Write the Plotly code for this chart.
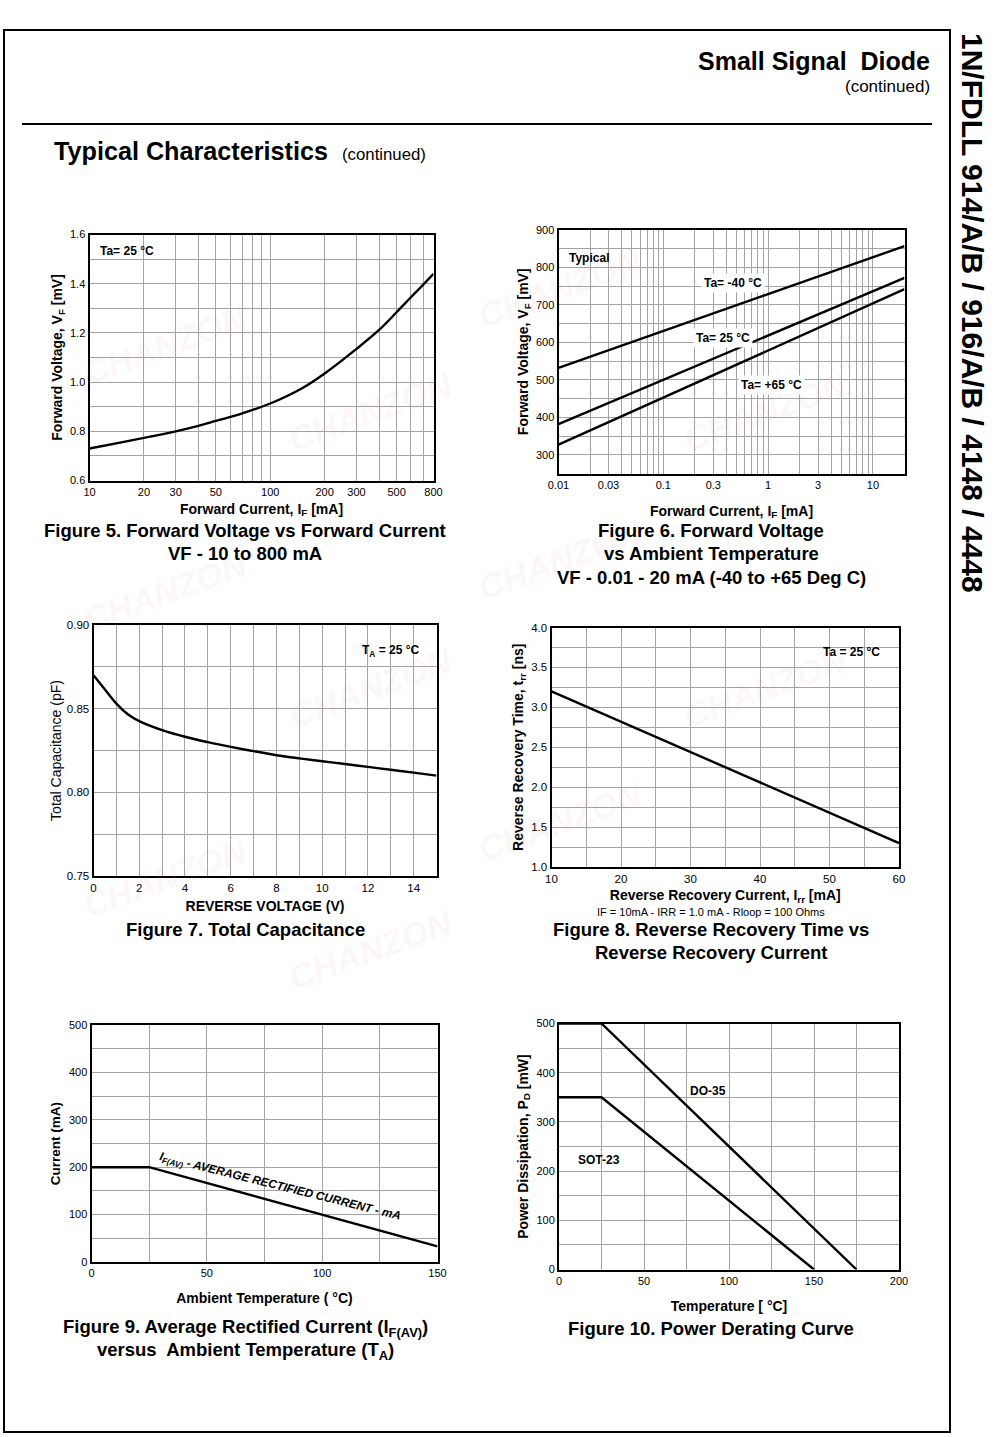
import math
import plotly.graph_objects as go

W, H = 1000, 1437
FONT = "Liberation Sans, Arial, Helvetica, sans-serif"
GRID = "#a3a3a3"

# ---------------- data ----------------
# Figure 5: Forward Voltage vs Forward Current
fig5_if_ma = [10, 15, 20, 30, 40, 50, 70, 100, 150, 200, 300, 400, 500, 600, 700, 800]
fig5_vf = [0.730, 0.755, 0.773, 0.800, 0.822, 0.842, 0.873, 0.913, 0.975, 1.035, 1.135, 1.212,
           1.284, 1.345, 1.395, 1.440]
fig5_xgrid = [10, 20, 30, 40, 50, 60, 70, 80, 90, 100, 200, 300, 400, 500, 600, 700, 800]
fig5_xticks = [10, 20, 30, 50, 100, 200, 300, 500, 800]
fig5_xlabels = ["10", "20", "30", "50", "100", "200", "300", "500", "800"]
fig5_ygrid = [0.6, 0.7, 0.8, 0.9, 1.0, 1.1, 1.2, 1.3, 1.4, 1.5, 1.6]
fig5_yticks = [0.6, 0.8, 1.0, 1.2, 1.4, 1.6]
fig5_ylabels = ["0.6", "0.8", "1.0", "1.2", "1.4", "1.6"]

# Figure 6: Forward Voltage vs Ambient Temperature
fig6_if_ma = [0.01, 20]
fig6_vf_m40 = [532, 857]
fig6_vf_25 = [382, 772]
fig6_vf_65 = [327, 742]
fig6_xgrid = [0.01, 0.02, 0.03, 0.04, 0.05, 0.06, 0.07, 0.08, 0.09,
              0.1, 0.2, 0.3, 0.4, 0.5, 0.6, 0.7, 0.8, 0.9,
              1, 2, 3, 4, 5, 6, 7, 8, 9, 10, 20]
fig6_xticks = [0.01, 0.03, 0.1, 0.3, 1, 3, 10]
fig6_xlabels = ["0.01", "0.03", "0.1", "0.3", "1", "3", "10"]
fig6_ygrid = [250, 300, 350, 400, 450, 500, 550, 600, 650, 700, 750, 800, 850, 900]
fig6_yticks = [300, 400, 500, 600, 700, 800, 900]
fig6_ylabels = ["300", "400", "500", "600", "700", "800", "900"]

# Figure 7: Total Capacitance
fig7_vr = [0, 0.5, 1, 1.5, 2, 3, 4, 5, 6, 7, 8, 9, 10, 11, 12, 13, 14, 15]
fig7_ct = [0.870, 0.8615, 0.853, 0.8467, 0.8426, 0.8372, 0.8332, 0.8300, 0.8272,
           0.8246, 0.8222, 0.8203, 0.8186, 0.8169, 0.8152, 0.8135, 0.8118, 0.8100]
fig7_xgrid = [0, 1, 2, 3, 4, 5, 6, 7, 8, 9, 10, 11, 12, 13, 14, 15]
fig7_xticks = [0, 2, 4, 6, 8, 10, 12, 14]
fig7_xlabels = ["0", "2", "4", "6", "8", "10", "12", "14"]
fig7_ygrid = [0.75, 0.775, 0.80, 0.825, 0.85, 0.875, 0.90]
fig7_yticks = [0.75, 0.80, 0.85, 0.90]
fig7_ylabels = ["0.75", "0.80", "0.85", "0.90"]

# Figure 8: Reverse Recovery Time vs Reverse Recovery Current
fig8_irr = [10, 60]
fig8_trr = [3.2, 1.3]
fig8_xgrid = [10, 15, 20, 25, 30, 35, 40, 45, 50, 55, 60]
fig8_xticks = [10, 20, 30, 40, 50, 60]
fig8_xlabels = ["10", "20", "30", "40", "50", "60"]
fig8_ygrid = [1.0, 1.25, 1.5, 1.75, 2.0, 2.25, 2.5, 2.75, 3.0, 3.25, 3.5, 3.75, 4.0]
fig8_yticks = [1.0, 1.5, 2.0, 2.5, 3.0, 3.5, 4.0]
fig8_ylabels = ["1.0", "1.5", "2.0", "2.5", "3.0", "3.5", "4.0"]

# Figure 9: Average Rectified Current vs Ambient Temperature
fig9_ta = [0, 25, 150]
fig9_if = [200, 200, 33]
fig9_xgrid = [0, 25, 50, 75, 100, 125, 150]
fig9_xticks = [0, 50, 100, 150]
fig9_xlabels = ["0", "50", "100", "150"]
fig9_ygrid = [0, 50, 100, 150, 200, 250, 300, 350, 400, 450, 500]
fig9_yticks = [0, 100, 200, 300, 400, 500]
fig9_ylabels = ["0", "100", "200", "300", "400", "500"]

# Figure 10: Power Derating Curve
fig10_t_do35 = [0, 25, 175]
fig10_p_do35 = [500, 500, 0]
fig10_t_sot23 = [0, 25, 150]
fig10_p_sot23 = [350, 350, 0]
fig10_xgrid = [0, 25, 50, 75, 100, 125, 150, 175, 200]
fig10_xticks = [0, 50, 100, 150, 200]
fig10_xlabels = ["0", "50", "100", "150", "200"]
fig10_ygrid = [0, 50, 100, 150, 200, 250, 300, 350, 400, 450, 500]
fig10_yticks = [0, 100, 200, 300, 400, 500]
fig10_ylabels = ["0", "100", "200", "300", "400", "500"]


# ---------------- helpers ----------------
def dx(a, b):
    return [a / W, b / W]


def dy(top, bottom):
    return [1 - bottom / H, 1 - top / H]


def axis(domain, rng, grid, vals, texts, anchor, title, standoff, typ="linear",
         tsize=11, ttsize=14):
    return dict(
        domain=domain, range=rng, type=typ, anchor=anchor, automargin=False,
        tickmode="array", tickvals=vals, ticktext=texts,
        showgrid=True, gridcolor=GRID, gridwidth=1,
        minor=dict(tickmode="array", tickvals=grid, showgrid=True,
                   gridcolor=GRID, gridwidth=1, ticks=""),
        showline=True, linecolor="black", linewidth=2, mirror=True,
        ticks="", zeroline=False, fixedrange=True,
        tickfont=dict(family=FONT, size=tsize, color="black"),
        title=dict(text=title, standoff=standoff,
                   font=dict(family=FONT, size=ttsize, color="black")),
    )


LINE = dict(color="black", width=2.4)

fig = go.Figure()

fig.add_trace(go.Scatter(x=fig5_if_ma, y=fig5_vf, mode="lines", line=dict(shape="spline", **LINE),
                         xaxis="x", yaxis="y", showlegend=False))
for yv in (fig6_vf_m40, fig6_vf_25, fig6_vf_65):
    fig.add_trace(go.Scatter(x=fig6_if_ma, y=yv, mode="lines", line=LINE,
                             xaxis="x2", yaxis="y2", showlegend=False))
fig.add_trace(go.Scatter(x=fig7_vr, y=fig7_ct, mode="lines", line=dict(shape="spline", **LINE),
                         xaxis="x3", yaxis="y3", showlegend=False))
fig.add_trace(go.Scatter(x=fig8_irr, y=fig8_trr, mode="lines", line=LINE,
                         xaxis="x4", yaxis="y4", showlegend=False))
fig.add_trace(go.Scatter(x=fig9_ta, y=fig9_if, mode="lines", line=LINE,
                         xaxis="x5", yaxis="y5", showlegend=False))
fig.add_trace(go.Scatter(x=fig10_t_do35, y=fig10_p_do35, mode="lines", line=LINE,
                         xaxis="x6", yaxis="y6", showlegend=False))
fig.add_trace(go.Scatter(x=fig10_t_sot23, y=fig10_p_sot23, mode="lines", line=LINE,
                         xaxis="x6", yaxis="y6", showlegend=False))

layout = dict(
    width=W, height=H, margin=dict(l=0, r=0, t=0, b=0, pad=0, autoexpand=False),
    paper_bgcolor="white", plot_bgcolor="white", showlegend=False,
    font=dict(family=FONT, color="black"),
    xaxis=axis(dx(89.5, 433.5), [1, math.log10(800)], fig5_xgrid, fig5_xticks, fig5_xlabels, "y",
               "<b>Forward Current, I<sub>F</sub> [mA]</b>", 7, typ="log", tsize=11),
    yaxis=axis(dy(234.5, 480.5), [0.6, 1.6], fig5_ygrid, fig5_yticks, fig5_ylabels, "x",
               "<b>Forward Voltage, V<sub>F</sub> [mV]</b>", 4, tsize=11),
    xaxis2=axis(dx(558.5, 904.5), [-2, math.log10(20)], fig6_xgrid, fig6_xticks, fig6_xlabels, "y2",
                "<b>Forward Current, I<sub>F</sub> [mA]</b>", 16, typ="log", tsize=11),
    yaxis2=axis(dy(230, 473.5), [250, 900], fig6_ygrid, fig6_yticks, fig6_ylabels, "x2",
                "<b>Forward Voltage, V<sub>F</sub> [mV]</b>", 4, tsize=11),
    xaxis3=axis(dx(93.5, 436.5), [0, 15], fig7_xgrid, fig7_xticks, fig7_xlabels, "y3",
                "<b>REVERSE VOLTAGE (V)</b>", 8, tsize=11.5),
    yaxis3=axis(dy(625, 876), [0.75, 0.90], fig7_ygrid, fig7_yticks, fig7_ylabels, "x3",
                "Total Capacitance (pF)", 2, tsize=11.5),
    xaxis4=axis(dx(551.5, 899), [10, 60], fig8_xgrid, fig8_xticks, fig8_xlabels, "y4",
                "<b>Reverse Recovery Current, I<sub>rr</sub> [mA]</b>", 6, tsize=11.5),
    yaxis4=axis(dy(627.5, 867), [1.0, 4.0], fig8_ygrid, fig8_yticks, fig8_ylabels, "x4",
                "<b>Reverse Recovery Time, t<sub>rr</sub> [ns]</b>", 4, tsize=11.5),
    xaxis5=axis(dx(91.5, 437.5), [0, 150], fig9_xgrid, fig9_xticks, fig9_xlabels, "y5",
                "<b>Ambient Temperature ( °C)</b>", 15, tsize=11),
    yaxis5=axis(dy(1025, 1262), [0, 500], fig9_ygrid, fig9_yticks, fig9_ylabels, "x5",
                "<b>Current (mA)</b>", 5, tsize=11, ttsize=13.5),
    xaxis6=axis(dx(559, 899), [0, 200], fig10_xgrid, fig10_xticks, fig10_xlabels, "y6",
                "<b>Temperature [ °C]</b>", 15, tsize=11),
    yaxis6=axis(dy(1023.5, 1269.5), [0, 500], fig10_ygrid, fig10_yticks, fig10_ylabels, "x6",
                "<b>Power Dissipation, P<sub>D</sub> [mW]</b>", 5, tsize=11),
)
fig.update_layout(**layout)

ann = []


def page_text(text, x, y, size, xanchor="center", bold=False, angle=0, color="black"):
    ann.append(dict(text=("<b>%s</b>" % text) if bold else text, x=x / W, y=1 - y / H,
                    xref="paper", yref="paper", xanchor=xanchor, yanchor="middle",
                    showarrow=False, textangle=angle,
                    font=dict(family=FONT, size=size, color=color)))


def in_plot(text, ax, fx, fy, size, xanchor="center", angle=0, bg=None, italic=False):
    t = "<b>%s</b>" % text
    if italic:
        t = "<i>%s</i>" % t
    d = dict(text=t, x=fx, y=fy, xref="%s domain" % ax[0], yref="%s domain" % ax[1],
             xanchor=xanchor, yanchor="middle", showarrow=False, textangle=angle,
             font=dict(family=FONT, size=size, color="black"))
    if bg:
        d["bgcolor"] = bg
        d["borderpad"] = 2
    ann.append(d)


# faint (translucent) watermarks
wm = [(165, 345), (370, 412), (560, 288), (765, 412), (560, 560), (165, 592),
      (370, 688), (765, 688), (560, 822), (165, 878), (370, 950)]
for (wx, wy) in wm:
    ann.append(dict(text="<i><b>CHANZON</b></i>", x=wx / W, y=1 - wy / H, xref="paper", yref="paper",
                    showarrow=False, textangle=-20, xanchor="center", yanchor="middle",
                    font=dict(family=FONT, size=34, color="rgba(225,120,120,0.08)")))

# header
page_text("Small Signal\u00a0 Diode", 932, 61, 25, xanchor="right", bold=True)
page_text("(continued)", 932, 87, 17, xanchor="right")
page_text("Typical Characteristics", 52, 151, 25.2, xanchor="left", bold=True)
page_text("(continued)", 340, 154, 16.8, xanchor="left")
page_text("1N/FDLL 914/A/B / 916/A/B / 4148 / 4448", 973, 313, 30, bold=True, angle=90)

# captions
CAP = 18.5
page_text("Figure 5. Forward Voltage vs Forward Current", 245, 531, CAP, bold=True)
page_text("VF - 10 to 800 mA", 245, 554, CAP, bold=True)
page_text("Figure 6. Forward Voltage", 711, 531, CAP, bold=True)
page_text("vs Ambient Temperature", 711, 554, CAP, bold=True)
page_text("VF - 0.01 - 20 mA (-40 to +65 Deg C)", 711, 577, CAP, bold=True)
page_text("Figure 7. Total Capacitance", 245, 929, CAP, bold=True)
page_text("Figure 8. Reverse Recovery Time vs", 711, 929, CAP, bold=True)
page_text("Reverse Recovery Current", 711, 952, CAP, bold=True)
page_text("Figure 9. Average Rectified Current (I<sub>F(AV)</sub>)", 245, 1328, CAP, bold=True)
page_text("versus\u00a0 Ambient Temperature (T<sub>A</sub>)", 245, 1351, CAP, bold=True)
page_text("Figure 10. Power Derating Curve", 711, 1328, CAP, bold=True)
page_text("IF = 10mA - IRR = 1.0 mA - Rloop = 100 Ohms", 711, 912, 11)

# in-plot labels
in_plot("Ta= 25 °C", ("x", "y"), 0.025, 0.933, 12, xanchor="left")
in_plot("Typical", ("x2", "y2"), 0.025, 0.885, 12, xanchor="left")
in_plot("Ta= -40 °C", ("x2", "y2"), 0.505, 0.784, 12, bg="white")
in_plot("Ta= 25 °C", ("x2", "y2"), 0.476, 0.555, 12, bg="white")
in_plot("Ta= +65 °C", ("x2", "y2"), 0.616, 0.363, 12, bg="white")
in_plot("T<sub>A</sub> = 25 °C", ("x3", "y3"), 0.866, 0.896, 12)
in_plot("Ta = 25 °C", ("x4", "y4"), 0.864, 0.899, 12)
in_plot("I<sub>F(AV)</sub> - AVERAGE RECTIFIED CURRENT - mA", ("x5", "y5"), 0.546, 0.318, 11.8,
        angle=14, italic=True)
in_plot("DO-35", ("x6", "y6"), 0.439, 0.726, 12)
in_plot("SOT-23", ("x6", "y6"), 0.1185, 0.445, 12)

fig.update_layout(annotations=ann)

shapes = [
    dict(type="rect", xref="paper", yref="paper", x0=4 / W, x1=950 / W, y0=1 - 1432 / H, y1=1 - 30 / H,
         line=dict(color="black", width=2), fillcolor="rgba(0,0,0,0)", layer="below"),
    dict(type="line", xref="paper", yref="paper", x0=22 / W, x1=932 / W, y0=1 - 124 / H, y1=1 - 124 / H,
         line=dict(color="black", width=2)),
]
fig.update_layout(shapes=shapes)

# remove the browser's default page margin so the figure fills the window exactly
fig.write_html("out.html", config={"displayModeBar": False},
               post_script="document.body.style.margin='0';document.body.style.overflow='hidden';")
